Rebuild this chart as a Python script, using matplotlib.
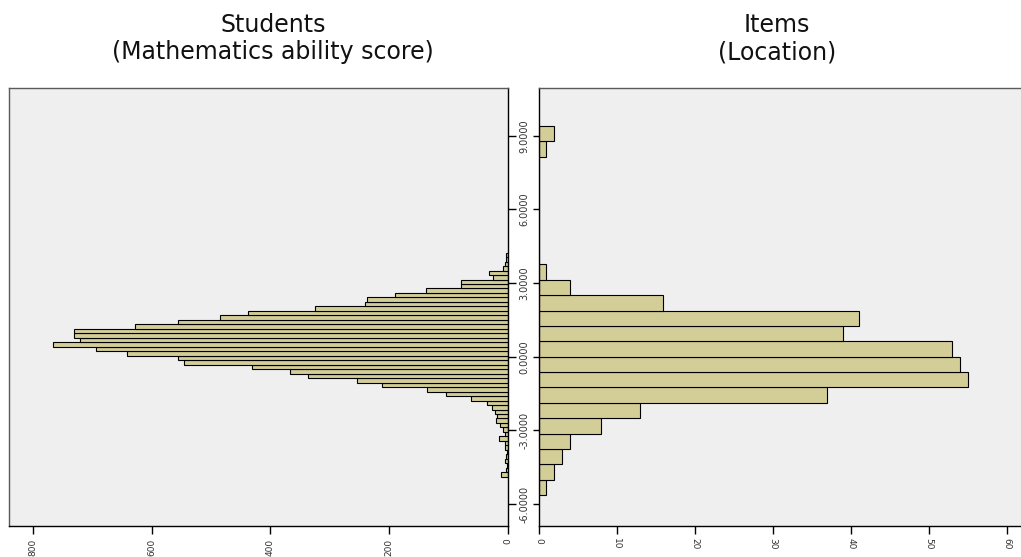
import matplotlib
matplotlib.use("Agg")
import matplotlib.pyplot as plt
import numpy as np

# ---------------- data ----------------
# Students (left panel): counts per bin, from bottom bin to top bin
student_bin_start = -4.89
student_bin_width = 0.1826
student_counts = [11, 2, 1, 4, 2, 1, 4, 5, 14, 4, 8, 12, 20, 18, 21, 26, 35,
                  62, 104, 136, 212, 254,
                  337, 366, 430, 545, 556, 641, 693, 766, 721, 731, 731, 628,
                  556, 484, 437, 325, 240, 237, 190, 137, 78, 78, 25, 31, 8, 5, 3, 2]

# Items (right panel): counts per bin, from bottom bin to top bin
item_bin_start = -9 * 0.6266
item_bin_width = 0.6266
item_counts = [1, 2, 3, 4, 8, 13, 37, 55, 54, 53, 39, 41, 16, 4, 1,
               0, 0, 0, 0, 0, 0, 0, 1, 2]

y_ticks = [-6, -3, 0, 3, 6, 9]
left_x_ticks = [0, 200, 400, 600, 800]
right_x_ticks = [0, 10, 20, 30, 40, 50, 60]

title_left = "Students\n(Mathematics ability score)"
title_right = "Items\n(Location)"

# ---------------- style ----------------
W, H = 1021, 557
bar_fc = "#d3ce98"
bg = "#efefef"
frame = "#5a5a5a"
ylim = (-6.896, 10.945)

fig = plt.figure(figsize=(W / 100, H / 100), dpi=100)
fig.patch.set_facecolor("white")

def fx(px):
    return px / W

def fy(py):
    return 1 - py / H

ax_top, ax_bot = 88, 526
axL = fig.add_axes([fx(9), fy(ax_bot), fx(507.5 - 9), (ax_bot - ax_top) / H])
axR = fig.add_axes([fx(538.5), fy(ax_bot), 1 - fx(538.5), (ax_bot - ax_top) / H])

for ax in (axL, axR):
    ax.set_facecolor(bg)
    ax.set_ylim(*ylim)
    for s in ax.spines.values():
        s.set_color(frame)
        s.set_linewidth(1.0)

# left histogram
s_edges = student_bin_start + student_bin_width * np.arange(len(student_counts))
axL.barh(s_edges, student_counts, height=student_bin_width, align="edge",
         color=bar_fc, edgecolor="black", linewidth=0.8)
axL.set_xlim(840.5, 0)
axL.spines["right"].set_color("black")
axL.spines["bottom"].set_color("black")
axL.set_xticks(left_x_ticks)
axL.set_xticklabels([str(v) for v in left_x_ticks])
axL.tick_params(axis="x", direction="out", length=6, width=1, pad=3,
                labelsize=6.5, labelrotation=90, colors="black", labelcolor="#333333")
axL.yaxis.tick_right()
axL.set_yticks(y_ticks)
axL.tick_params(axis="y", direction="out", length=6, width=1, labelright=False)

# right histogram
i_edges = item_bin_start + item_bin_width * np.arange(len(item_counts))
axR.barh(i_edges, item_counts, height=item_bin_width, align="edge",
         color=bar_fc, edgecolor="black", linewidth=0.8)
axR.set_xlim(0, 61.8)
axR.spines["left"].set_color("black")
axR.spines["bottom"].set_color("black")
axR.spines["right"].set_visible(False)
axR.set_xticks(right_x_ticks)
axR.set_xticklabels([str(v) for v in right_x_ticks])
axR.tick_params(axis="x", direction="out", length=6, width=1, pad=3,
                labelsize=6.5, labelrotation=-90, colors="black", labelcolor="#333333")
axR.set_yticks(y_ticks)
axR.set_yticklabels(["{:.4f}".format(v) for v in y_ticks])
axR.tick_params(axis="y", direction="out", length=4.5, width=1, pad=2.2,
                labelsize=7, labelcolor="#333333")
for lab in axR.get_yticklabels():
    lab.set_rotation(90)
    lab.set_va("center")
    lab.set_ha("right")
for lab in axL.get_xticklabels() + axR.get_xticklabels():
    lab.set_va("top")
    lab.set_ha("center")

# titles
fig.text(fx(273), fy(13), title_left, ha="center", va="top", fontsize=17,
         family="DejaVu Sans", linespacing=1.18, color="#111111")
fig.text(fx(777), fy(13), title_right, ha="center", va="top", fontsize=17,
         family="DejaVu Sans", linespacing=1.18, color="#111111")

fig.savefig("out.png", dpi=100, facecolor="white")
